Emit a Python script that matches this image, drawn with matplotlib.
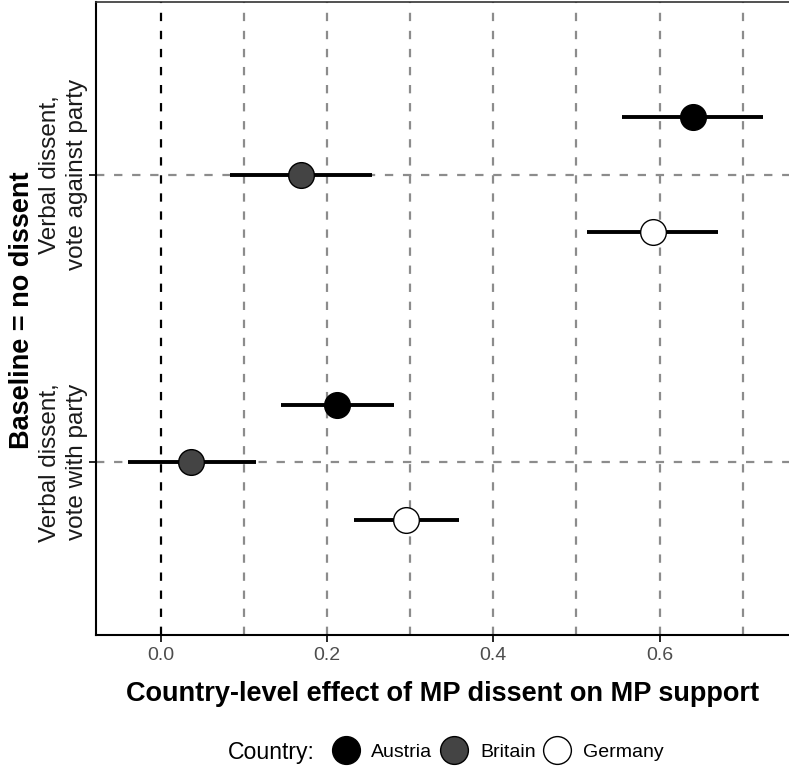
import numpy as np
import matplotlib
matplotlib.use("Agg")
import matplotlib.pyplot as plt
from matplotlib.lines import Line2D

plt.rcParams['font.family'] = ['Liberation Sans', 'DejaVu Sans']
plt.rcParams['lines.scale_dashes'] = False

# data
categories = ["Verbal dissent,\nvote with party", "Verbal dissent,\nvote against party"]
countries = ["Austria", "Britain", "Germany"]
colors = ["#000000", "#444444", "#ffffff"]
# estimates per country, order = categories
est = {
    "Austria": [0.212, 0.640],
    "Britain": [0.036, 0.169],
    "Germany": [0.295, 0.592],
}
lo = {
    "Austria": [0.145, 0.555],
    "Britain": [-0.040, 0.083],
    "Germany": [0.233, 0.513],
}
hi = {
    "Austria": [0.280, 0.725],
    "Britain": [0.114, 0.254],
    "Germany": [0.359, 0.670],
}
dodge = [0.2, 0.0, -0.2]

fig = plt.figure(figsize=(7.89, 7.72), dpi=100)
ax = fig.add_axes([96/789, 1-635/772, (790-96)/789, 633/772])

grid_kw = dict(color="#8c8c8c", lw=1.6, ls=(0, (6, 7)), zorder=0)
for gx in [0.1, 0.2, 0.3, 0.4, 0.5, 0.6, 0.7]:
    ax.axvline(gx, **grid_kw)
for gy in [1, 2]:
    ax.axhline(gy, **grid_kw)
ax.axvline(0, color="black", lw=1.6, ls=(0, (6, 7)), zorder=1)

ypos = np.arange(1, len(categories) + 1)
for c, col, d in zip(countries, colors, dodge):
    y = ypos + d
    ax.hlines(y, lo[c], hi[c], color="black", lw=2.8, zorder=2)
    ax.plot(est[c], y, 'o', ms=18.5, mfc=col, mec="black", mew=1.0, zorder=3)

ax.set_xlim(-0.078, 0.757)
ax.set_ylim(0.4, 2.6)
ax.set_xticks([0.0, 0.2, 0.4, 0.6])
ax.set_xticklabels(["0.0", "0.2", "0.4", "0.6"])
ax.set_yticks(ypos)
ax.set_yticklabels(categories, rotation=90, va="center", ha="right",
                   multialignment="center", fontsize=17.5, color="#1a1a1a",
                   linespacing=1.3)
ax.tick_params(axis="x", labelsize=14, labelcolor="#4d4d4d", length=5, width=1.2, pad=4)
ax.tick_params(axis="y", length=5, width=1.2, pad=1)

for s in ["left", "bottom"]:
    ax.spines[s].set_linewidth(1.5)
    ax.spines[s].set_color("black")
ax.spines["top"].set_color("#333333")
ax.spines["top"].set_linewidth(1.2)
ax.spines["right"].set_visible(False)

ax.set_xlabel("Country-level effect of MP dissent on MP support",
              fontsize=19.5, fontweight="bold", labelpad=12)
fig.text(22/789, 1-310/772, "Baseline = no dissent", rotation=90,
         fontsize=19.5, fontweight="bold", ha="center", va="center")

# legend
fig.text(228/789, 1-752/772, "Country:", fontsize=16.6, ha="left", va="center")
handles = [Line2D([], [], ls="none", marker="o", ms=20, mfc=col, mec="black", mew=1.0)
           for col in colors]
fig.legend(handles, countries, loc="center left", bbox_to_anchor=(336/789, 1-752/772),
           ncol=3, frameon=False, fontsize=14, handlelength=1.0, handletextpad=0.82,
           columnspacing=0.62, borderaxespad=0, borderpad=0)

fig.savefig("out.png", dpi=100)
